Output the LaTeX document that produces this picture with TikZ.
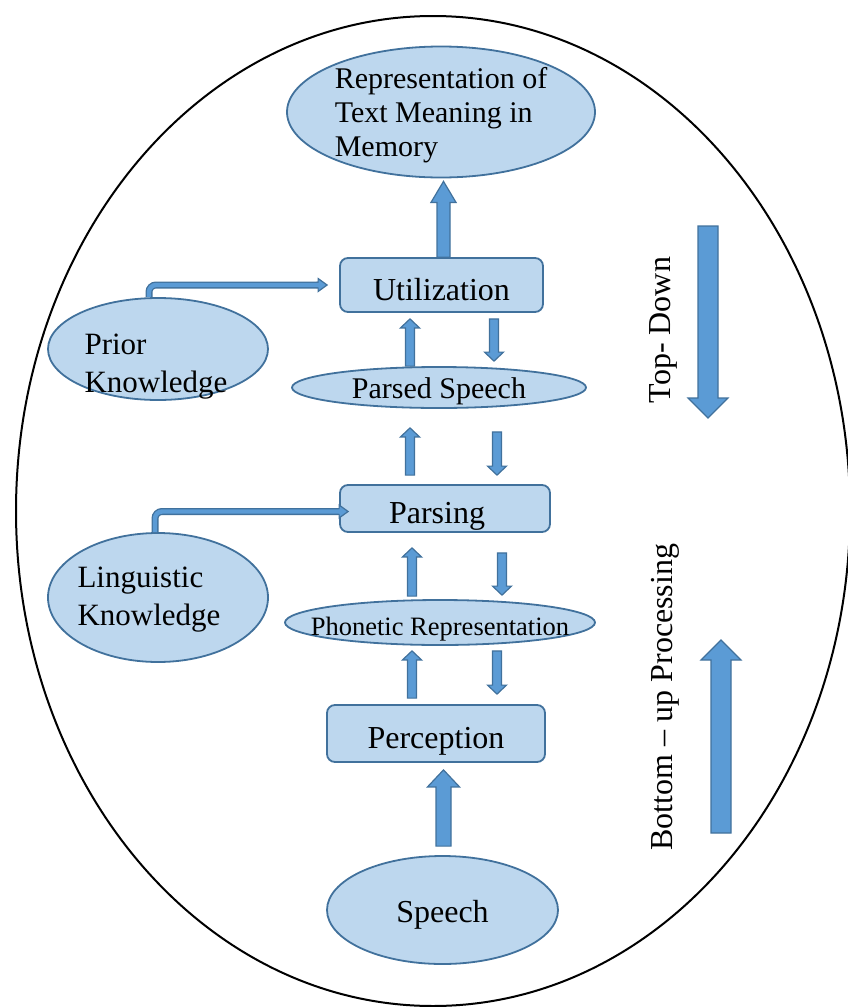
\documentclass[tikz,border=0pt]{standalone}
\usepackage{fontspec}
\setmainfont{Liberation Serif}
\usetikzlibrary{calc,shapes.geometric}
\definecolor{boxfill}{RGB}{189,215,238}
\definecolor{boxline}{RGB}{65,113,156}
\definecolor{arrowfill}{RGB}{91,155,213}

% block arrow: from, to, shaft half width, head half width, head length
\newcommand{\blockarrow}[5]{%
  \coordinate (ba0) at #1;
  \coordinate (ba1) at #2;
  \coordinate (bah) at ($(ba1)!#5!(ba0)$);
  \draw[blockarr] ($(ba0)!#3!90:(ba1)$) -- ($(bah)!#3!-90:(ba0)$) -- ($(bah)!#4!-90:(ba0)$) -- (ba1)
    -- ($(bah)!#4!90:(ba0)$) -- ($(bah)!#3!90:(ba0)$) -- ($(ba0)!#3!-90:(ba1)$) -- cycle;}

\begin{document}
\begin{tikzpicture}[x=1pt,y=-1pt,
  ktext/.style={font=\fontsize{30}{34}\selectfont,align=left},
  ktext2/.style={font=\fontsize{31}{38}\selectfont,align=left},
  side/.style={font=\fontsize{32}{36}\selectfont},
  box/.style={rectangle,rounded corners=8pt,draw=boxline,fill=boxfill,line width=1.8pt,inner sep=0pt,
    font=\fontsize{32}{36}\selectfont,text height=30pt,text depth=0pt},
  oval/.style={ellipse,draw=boxline,fill=boxfill,line width=1.8pt,inner sep=0pt,font=\fontsize{30}{34}\selectfont},
  blockarr/.style={draw=boxline,fill=arrowfill,line width=1.2pt,line join=miter},
  elbowline/.style={rounded corners=7pt,line width=7pt,draw=boxline},
  elbowfill/.style={rounded corners=7pt,line width=4.4pt,draw=arrowfill}]
\useasboundingbox (0,0) rectangle (848,1007);
\draw[line width=2pt] (433,511) ellipse [x radius=417pt, y radius=495pt];

\path (441,112) node[oval,minimum width=308pt,minimum height=131pt,
  label={[ktext,yshift=-3pt]center:{Representation of\\Text Meaning in\\Memory}}] (rep) {};
\path (441.5,285) node[box,minimum width=203pt,minimum height=54pt] (util) {Utilization};
\path (158,349) node[oval,minimum width=220pt,minimum height=102pt,
  label={[ktext2,xshift=-2pt,yshift=-18pt]center:{Prior\\Knowledge}}] (pk) {};
\path (439,387.5) node[oval,minimum width=294pt,minimum height=41pt,text height=21pt,text depth=0pt] (ps) {Parsed Speech};
\path (445,508.5) node[box,minimum width=210pt,minimum height=47pt] (parsing) {\makebox[0pt]{\hspace*{-16pt}Parsing}};
\path (158,597.5) node[oval,minimum width=220pt,minimum height=129pt,
  label={[ktext2,xshift=-9pt,yshift=-2pt]center:{Linguistic\\Knowledge}}] (lk) {};
\path (440,622.5) node[oval,minimum width=310pt,minimum height=45pt,font=\fontsize{26.5}{30}\selectfont,
  text height=25pt,text depth=0pt] (ph) {\makebox[0pt]{Phonetic Representation}};
\path (436,733.5) node[box,minimum width=218pt,minimum height=57pt] (per) {Perception};
\path (442.5,910) node[oval,minimum width=231pt,minimum height=108pt,font=\fontsize{32}{36}\selectfont,
  text height=24pt,text depth=0pt] (speech) {Speech};

\path (663,330) node[side,rotate=90] (topdown) {Top- Down};
\path (665,697) node[side,rotate=90] (bottomup) {Bottom – up Processing};

% main flow
\blockarrow{($(util.north)+(2,0)$)}{($(util.north |- rep.south)+(2,3)$)}{6.5pt}{12.5pt}{21pt}
\blockarrow{($(speech.north)+(1,-9)$)}{($(per.south)+(7.5,7)$)}{7.5pt}{16pt}{17pt}

% up and down between levels
\blockarrow{($(ps.north)+(-29,0)$)}{($(util.south)+(-31.5,6)$)}{4.5pt}{9.5pt}{9pt}
\blockarrow{($(util.south)+(52.5,6)$)}{($(ps.north)+(55,-5)$)}{4.5pt}{9.5pt}{9pt}
\blockarrow{($(parsing.north)+(-35,-9)$)}{($(ps.south)+(-29,19)$)}{4.5pt}{9.5pt}{9pt}
\blockarrow{($(ps.south)+(58,23)$)}{($(parsing.north)+(52,-9)$)}{4.5pt}{9.5pt}{9pt}
\blockarrow{($(ph.north)+(-28,-3)$)}{($(parsing.south)+(-33,15)$)}{4.5pt}{9.5pt}{9pt}
\blockarrow{($(parsing.south)+(57,20)$)}{($(ph.north)+(62,-4)$)}{4.5pt}{9.5pt}{9pt}
\blockarrow{($(per.north)+(-24,-6)$)}{($(ph.south)+(-28,5)$)}{4.5pt}{9.5pt}{9pt}
\blockarrow{($(ph.south)+(57,5)$)}{($(per.north)+(61,-10)$)}{4.5pt}{9.5pt}{9pt}

% knowledge inputs
\draw[elbowline] ($(pk.north)+(-9,0)$) |- ($(util.west)+(-21.5,0)$);
\blockarrow{($(util.west)+(-22,0)$)}{($(util.west)+(-12,0)$)}{2.85pt}{6.5pt}{9pt}
\draw[elbowfill] ($(pk.north)+(-9,0)$) |- ($(util.west)+(-19,0)$);

\draw[elbowline] ($(lk.north)+(-3,0)$) |- ($(parsing.west)+(-0.5,3)$);
\blockarrow{($(parsing.west)+(-1,3)$)}{($(parsing.west)+(9,3)$)}{2.85pt}{6.5pt}{9pt}
\draw[elbowfill] ($(lk.north)+(-3,0)$) |- ($(parsing.west)+(2,3)$);

% top-down and bottom-up
\blockarrow{(708,226)}{(708,418)}{10pt}{20pt}{20pt}
\blockarrow{(721,833)}{(721,640)}{10pt}{20pt}{20pt}
\end{tikzpicture}
\end{document}
